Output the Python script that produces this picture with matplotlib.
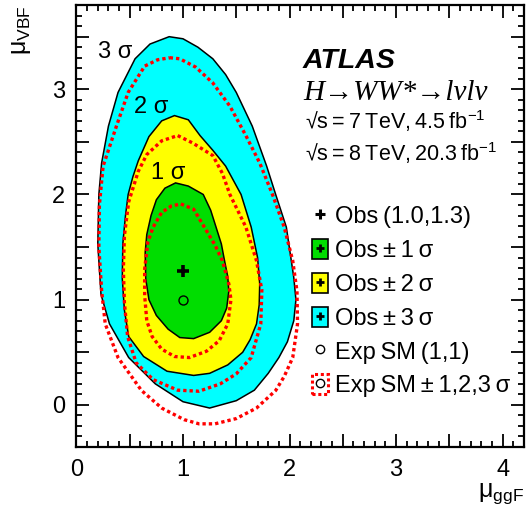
import matplotlib
matplotlib.use('Agg')
import matplotlib.pyplot as plt
from matplotlib.patches import Rectangle
from matplotlib.lines import Line2D
from matplotlib.legend_handler import HandlerTuple
from matplotlib.ticker import MultipleLocator, FuncFormatter

plt.rcParams['font.family'] = ['Liberation Sans', 'DejaVu Sans']
plt.rcParams['mathtext.fontset'] = 'custom'
plt.rcParams['mathtext.rm'] = 'Liberation Sans'
plt.rcParams['mathtext.it'] = 'Liberation Sans:italic'
plt.rcParams['mathtext.bf'] = 'Liberation Sans:bold'

obs1_x = [0.93, 1.05, 1.19, 1.26, 1.31, 1.36, 1.39, 1.42, 1.43, 1.41, 1.36, 1.25, 1.10, 0.97, 0.86, 0.75, 0.68, 0.65, 0.645, 0.66, 0.70, 0.75, 0.83]
obs1_y = [2.11, 2.08, 2.00, 1.85, 1.69, 1.53, 1.37, 1.22, 1.08, 0.92, 0.80, 0.69, 0.63, 0.64, 0.72, 0.85, 1.00, 1.20, 1.45, 1.62, 1.80, 1.95, 2.06]

obs2_x = [0.92, 1.05, 1.16, 1.28, 1.40, 1.545, 1.64, 1.70, 1.72, 1.715, 1.69, 1.63, 1.56, 1.42, 1.25, 1.10, 0.85, 0.63, 0.49, 0.45, 0.43, 0.435, 0.46, 0.485, 0.53, 0.58, 0.68, 0.80]
obs2_y = [2.75, 2.71, 2.56, 2.42, 2.27, 2.00, 1.69, 1.40, 1.15, 0.95, 0.77, 0.62, 0.50, 0.38, 0.30, 0.28, 0.32, 0.46, 0.65, 0.90, 1.20, 1.53, 1.80, 2.00, 2.17, 2.32, 2.55, 2.70]

obs3_x = [0.87, 1.00, 1.14, 1.28, 1.40, 1.50, 1.65, 1.785, 1.87, 1.97, 2.04, 2.06, 2.04, 1.98, 1.90, 1.80, 1.67, 1.50, 1.25, 1.00, 0.74, 0.49, 0.31, 0.23, 0.20, 0.21, 0.236, 0.30, 0.39, 0.55, 0.69]
obs3_y = [3.50, 3.48, 3.40, 3.29, 3.14, 2.97, 2.65, 2.27, 2.00, 1.69, 1.21, 1.00, 0.80, 0.60, 0.45, 0.30, 0.14, 0.04, -0.03, 0.03, 0.20, 0.45, 0.77, 1.05, 1.53, 2.00, 2.30, 2.65, 2.97, 3.29, 3.43]

# expected SM contours
exp1_x = [0.98, 1.10, 1.20, 1.30, 1.37, 1.43, 1.45, 1.42, 1.34, 1.22, 1.06, 0.92, 0.80, 0.71, 0.66, 0.64, 0.64, 0.67, 0.72, 0.80, 0.89]
exp1_y = [1.91, 1.86, 1.69, 1.52, 1.37, 1.15, 1.00, 0.77, 0.61, 0.51, 0.45, 0.46, 0.53, 0.65, 0.80, 1.04, 1.29, 1.55, 1.69, 1.83, 1.89]

exp2_x = [0.95, 1.09, 1.28, 1.37, 1.44, 1.59, 1.69, 1.74, 1.73, 1.64, 1.50, 1.35, 1.15, 0.95, 0.72, 0.56, 0.48, 0.45, 0.44, 0.45, 0.49, 0.58, 0.66, 0.80]
exp2_y = [2.56, 2.49, 2.37, 2.20, 2.00, 1.69, 1.37, 1.09, 0.77, 0.45, 0.295, 0.20, 0.13, 0.14, 0.24, 0.40, 0.65, 0.97, 1.29, 1.61, 1.93, 2.22, 2.38, 2.51]

exp3_x = [0.875, 0.97, 1.12, 1.28, 1.44, 1.59, 1.72, 1.84, 1.95, 2.03, 2.07, 2.075, 2.03, 1.95, 1.87, 1.69, 1.50, 1.30, 1.15, 1.01, 0.80, 0.61, 0.39, 0.27, 0.236, 0.21, 0.215, 0.25, 0.375, 0.485, 0.64, 0.76]
exp3_y = [3.30, 3.29, 3.21, 3.06, 2.84, 2.56, 2.30, 2.00, 1.69, 1.37, 1.08, 0.77, 0.45, 0.27, 0.137, -0.03, -0.13, -0.18, -0.18, -0.14, -0.03, 0.137, 0.45, 0.77, 1.086, 1.50, 1.90, 2.27, 2.65, 2.97, 3.22, 3.28]

best_fit = (1.0, 1.27)
sm_point = (1.0, 1.0)

green = '#00dd00'
yellow = '#ffff00'
cyan = '#00ffff'
TS = '\u2009'  # thin space

fig = plt.figure(figsize=(5.26, 5.12), dpi=100)
ax = fig.add_axes([0.1454, 0.127, 0.8506, 0.863])

ax.fill(obs3_x, obs3_y, facecolor=cyan, edgecolor='black', lw=1.1, zorder=1)
ax.fill(obs2_x, obs2_y, facecolor=yellow, edgecolor='black', lw=1.1, zorder=2)
ax.fill(obs1_x, obs1_y, facecolor=green, edgecolor='black', lw=1.1, zorder=3)

for ex, ey in [(exp1_x, exp1_y), (exp2_x, exp2_y), (exp3_x, exp3_y)]:
    ax.plot(ex + ex[:1], ey + ey[:1], color='red', lw=2.4, dashes=(1, 0.9),
            dash_capstyle='butt', zorder=4)

ax.plot(*best_fit, marker='+', color='black', ms=9, mew=2.6, ls='none', zorder=6)
ax.plot(*sm_point, marker='o', mfc='none', mec='black', ms=6.5, mew=1.0, ls='none', zorder=6)

ax.text(0.36, 3.30, '3 σ', fontsize=17, ha='center', va='baseline')
ax.text(0.70, 2.77, '2 σ', fontsize=17, ha='center', va='baseline')
ax.text(0.86, 2.15, '1 σ', fontsize=17, ha='center', va='baseline')

ax.set_xlim(0, 4.2)
ax.set_ylim(-0.4, 3.8)

ax.xaxis.set_major_locator(MultipleLocator(0.5))
ax.yaxis.set_major_locator(MultipleLocator(0.5))
ax.xaxis.set_minor_locator(MultipleLocator(0.1))
ax.yaxis.set_minor_locator(MultipleLocator(0.1))
fmt = FuncFormatter(lambda v, p: '%d' % round(v) if abs(v - round(v)) < 1e-6 else '')
ax.xaxis.set_major_formatter(fmt)
ax.yaxis.set_major_formatter(fmt)
ax.tick_params(which='both', direction='in', top=True, right=True, width=1.3, labelsize=17)
ax.tick_params(which='major', length=9.5)
ax.tick_params(which='minor', length=4.5)
ax.tick_params(axis='x', pad=9)
ax.tick_params(axis='y', pad=8)
for s in ax.spines.values():
    s.set_linewidth(1.6)

ax.text(1.0, -0.077, r'$\mathrm{\mu_{ggF}}$', transform=ax.transAxes, fontsize=18,
        ha='right', va='top')
ax.text(-0.15, 1.0, r'$\mathrm{\mu_{VBF}}$', transform=ax.transAxes, fontsize=18,
        ha='left', va='top', rotation=90)

ax.text(0.506, 0.857, 'ATLAS', transform=ax.transAxes, fontsize=20.5,
        fontweight='bold', fontstyle='italic', va='baseline')
ax.text(0.506, 0.785, 'H→WW*→lνlν', transform=ax.transAxes, fontsize=21,
        family=['Liberation Serif', 'DejaVu Serif'], fontstyle='italic', va='baseline')
ax.text(0.51, 0.719, '√s' + TS + '=' + TS + '7' + TS + 'TeV,' + TS + '4.5' + TS + r'fb$^{\mathrm{-1}}$',
        transform=ax.transAxes, fontsize=15.5, va='baseline')
ax.text(0.51, 0.647, '√s' + TS + '=' + TS + '8' + TS + 'TeV,' + TS + '20.3' + TS + r'fb$^{\mathrm{-1}}$',
        transform=ax.transAxes, fontsize=15.5, va='baseline')

# legend
plus = dict(marker='+', color='black', ms=6, mew=2.0, ls='none')
circ = dict(marker='o', mfc='none', mec='black', ms=6, mew=1.0, ls='none')
h_obs = Line2D([], [], marker='+', color='black', ms=7, mew=2.2, ls='none')
def box(fc, ec='black', ls='-', lw=1.2):
    return Rectangle((0, 0), 1, 1, facecolor=fc, edgecolor=ec, lw=lw, ls=ls)
h1 = (box(green), Line2D([], [], **plus))
h2 = (box(yellow), Line2D([], [], **plus))
h3 = (box(cyan), Line2D([], [], **plus))
h_sm = Line2D([], [], **circ)
h_exp = (box('none', ec='red', ls=(0, (1, 0.9)), lw=2.2), Line2D([], [], **circ))

labels = ['Obs' + TS + '(1.0,1.3)', 'Obs' + TS + '±' + TS + '1' + TS + 'σ',
          'Obs' + TS + '±' + TS + '2' + TS + 'σ', 'Obs' + TS + '±' + TS + '3' + TS + 'σ',
          'Exp' + TS + 'SM' + TS + '(1,1)', 'Exp' + TS + 'SM' + TS + '±' + TS + '1,2,3' + TS + 'σ']
ax.legend([h_obs, h1, h2, h3, h_sm, h_exp], labels,
          handler_map={tuple: HandlerTuple(ndivide=1, pad=0)},
          loc='upper left', bbox_to_anchor=(0.527, 0.547), frameon=False,
          fontsize=17, handlelength=0.68, handleheight=0.93, handletextpad=0.28,
          labelspacing=0.45, borderpad=0, borderaxespad=0)

fig.savefig('out.png', dpi=100)
